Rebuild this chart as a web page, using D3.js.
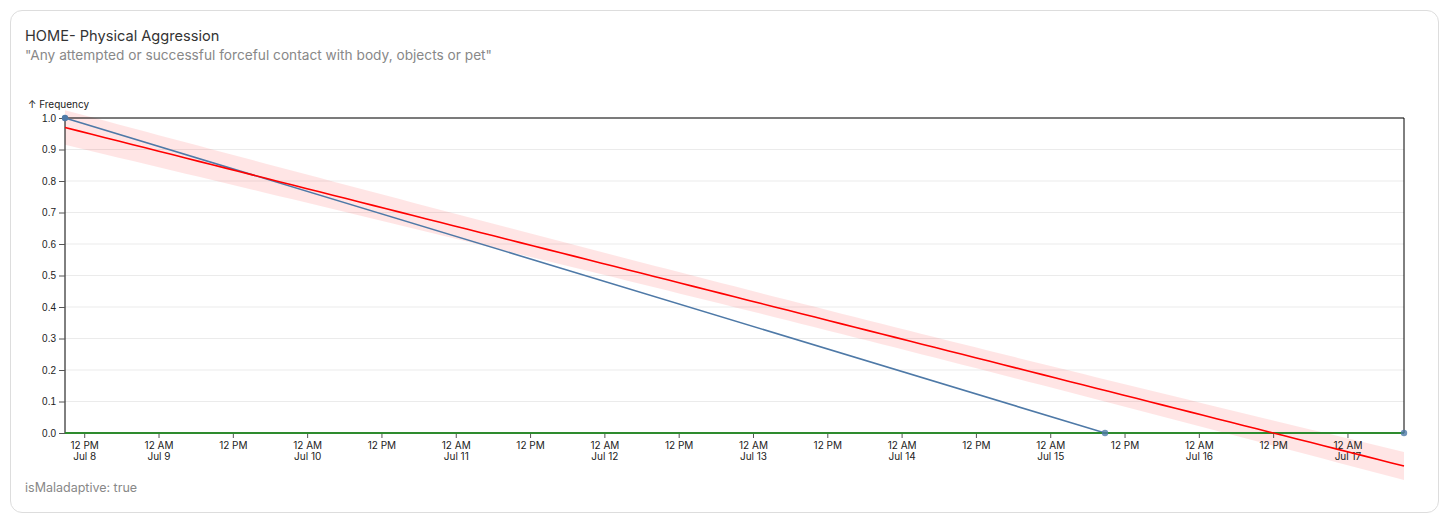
<!DOCTYPE html>
<html>
<head>
<meta charset="utf-8">
<script src="https://cdn.jsdelivr.net/npm/d3@7"></script>
<style>
  body { margin: 0; background: #fff; font-family: Inter, "Liberation Sans", Arial, sans-serif; }
  .card {
    position: absolute; left: 10px; top: 10px; width: 1429px; height: 503px;
    border: 1px solid #ddd; border-radius: 12px; box-sizing: border-box;
  }
  .title { position: absolute; left: 25px; top: 27px; font-size: 14.6px; color: #333; }
  .subtitle { position: absolute; left: 25px; top: 47px; font-size: 13.7px; color: #888; }
  .note { position: absolute; left: 25px; top: 480px; font-size: 12.5px; color: #888; }
  svg { position: absolute; left: 0; top: 0; }
</style>
</head>
<body>
<div class="card"></div>
<div class="title">HOME- Physical Aggression</div>
<div class="subtitle">"Any attempted or successful forceful contact with body, objects or pet"</div>
<div class="note">isMaladaptive: true</div>
<script>
// observations
const dates = ["2024-07-08T08:49", "2024-07-15T08:46", "2024-07-17T09:03"];
const frequency = [1, 0, 0];
const yTicks = [0, 0.1, 0.2, 0.3, 0.4, 0.5, 0.6, 0.7, 0.8, 0.9, 1.0];

const width = 1451;
const height = 519;
const margin = { top: 118, right: 47, bottom: 86, left: 65 };

const parse = d3.timeParse("%Y-%m-%dT%H:%M");
const data = dates.map((d, i) => ({ date: parse(d), value: frequency[i] }));

const x = d3.scaleTime()
  .domain(d3.extent(data, d => d.date))
  .range([margin.left, width - margin.right]);

const y = d3.scaleLinear()
  .domain([0, 1])
  .range([height - margin.bottom, margin.top]);

const svg = d3.select("body").append("svg")
  .attr("width", width)
  .attr("height", height)
  .style("font-family", "Inter, 'Liberation Sans', Arial, sans-serif");

// grid
svg.append("g")
  .selectAll("line")
  .data(yTicks.slice(1))
  .join("line")
  .attr("x1", margin.left).attr("x2", width - margin.right)
  .attr("y1", d => y(d)).attr("y2", d => y(d))
  .attr("stroke", "#ebebeb");

// linear regression (least squares on days)
const day = 864e5;
const t0 = data[0].date;
const ts = data.map(d => (d.date - t0) / day);
const n = ts.length;
const tMean = d3.mean(ts);
const vMean = d3.mean(data, d => d.value);
const sxx = d3.sum(ts, t => (t - tMean) ** 2);
const sxy = d3.sum(ts, (t, i) => (t - tMean) * (data[i].value - vMean));
const slope = sxy / sxx;
const icpt = vMean - slope * tMean;
const fit = t => icpt + slope * t;
const bandK = 0.056;
const halfWidth = t => bandK * Math.sqrt(1 / n + (t - tMean) ** 2 / sxx);

const samples = d3.range(0, 101).map(i => {
  const t = ts[0] + (ts[n - 1] - ts[0]) * i / 100;
  return { date: new Date(+t0 + t * day), t };
});

svg.append("path")
  .datum(samples)
  .attr("fill", "red")
  .attr("fill-opacity", 0.1)
  .attr("d", d3.area()
    .x(d => x(d.date))
    .y0(d => y(fit(d.t) - halfWidth(d.t)))
    .y1(d => y(fit(d.t) + halfWidth(d.t))));

// frame: left, top, right
svg.append("path")
  .attr("fill", "none")
  .attr("stroke", "#000")
  .attr("d", `M${margin.left},${y(0)}V${margin.top}H${width - margin.right}V${y(0)}`);

// y axis
const yAxis = d3.axisLeft(y)
  .tickValues(yTicks)
  .tickFormat(d3.format(".1f"))
  .tickSize(6)
  .tickPadding(3);
svg.append("g")
  .attr("transform", `translate(${margin.left},0)`)
  .call(yAxis)
  .call(g => g.select(".domain").remove())
  .call(g => g.selectAll("text").attr("font-size", 10).attr("fill", "#222").attr("font-family", null))
  .call(g => g.selectAll("line").attr("stroke", "#555"));

svg.append("text")
  .attr("x", 28).attr("y", 108)
  .attr("font-size", 10)
  .attr("fill", "#222")
  .text("↑ Frequency");

// x axis
const xt = d3.timeHour.every(12).range(x.domain()[0], x.domain()[1]);
const fmtDate = d3.timeFormat("%b %-d");
const xg = svg.append("g").attr("transform", `translate(0,${y(0)})`);
const tk = xg.selectAll("g").data(xt).join("g")
  .attr("transform", d => `translate(${x(d)},0)`);
tk.append("line").attr("y2", 5).attr("stroke", "#555");
tk.append("text")
  .attr("y", 16).attr("text-anchor", "middle").attr("font-size", 10).attr("fill", "#222")
  .text(d => d.getHours() === 0 ? "12 AM" : "12 PM");
tk.append("text")
  .attr("y", 27).attr("text-anchor", "middle").attr("font-size", 10).attr("fill", "#222")
  .text((d, i) => (i === 0 || d.getHours() === 0) ? fmtDate(d) : "");

// observed line
const line = d3.line().x(d => x(d.date)).y(d => y(d.value));
svg.append("path")
  .datum(data)
  .attr("fill", "none")
  .attr("stroke", "#4e79a7")
  .attr("stroke-width", 1.6)
  .attr("d", line);

// baseline
svg.append("line")
  .attr("x1", margin.left).attr("x2", width - margin.right)
  .attr("y1", y(0)).attr("y2", y(0))
  .attr("stroke", "#2e8b2e")
  .attr("stroke-width", 2);

// regression line
svg.append("path")
  .datum(samples)
  .attr("fill", "none")
  .attr("stroke", "red")
  .attr("stroke-width", 1.6)
  .attr("d", d3.line().x(d => x(d.date)).y(d => y(fit(d.t))));

// points
svg.append("g")
  .selectAll("circle")
  .data(data)
  .join("circle")
  .attr("cx", d => x(d.date))
  .attr("cy", d => y(d.value))
  .attr("r", 3.2)
  .attr("fill", "#4e79a7")
  .attr("fill-opacity", d => d.value === 0 ? 0.8 : 1);
</script>
</body>
</html>
